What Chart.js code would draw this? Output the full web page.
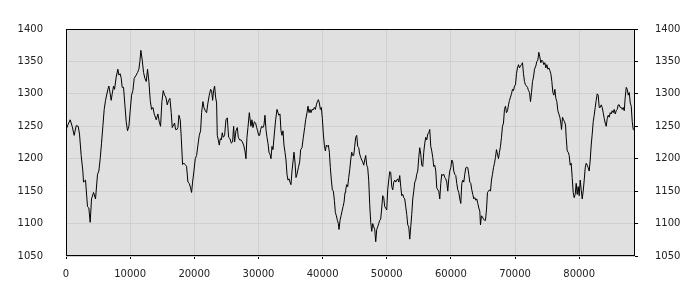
<!DOCTYPE html>
<html>
<head>
<meta charset="utf-8">
<script src="https://cdn.jsdelivr.net/npm/chart.js"></script>
<style>
  html, body { margin: 0; padding: 0; background: #fff; }
  #wrap { width: 700px; height: 300px; }
</style>
</head>
<body>
<div id="wrap"><canvas id="seriesChart" width="700" height="300"></canvas></div>
<script>
// values
const xValues = [
  0, 286, 650, 962, 1274, 1586, 1898, 2106, 2366, 2626, 2730, 3042, 3354, 3562, 3770, 3978,
  4290, 4602, 4914, 5122, 5330, 5538, 5746, 5954, 6162, 6526, 6682, 6890, 7046, 7202, 7410, 7566,
  7826, 8086, 8242, 8450, 8606, 8762, 8970, 9178, 9386, 9594, 9802, 10010, 10218, 10426, 10634, 10946,
  11154, 11362, 11518, 11674, 11882, 12090, 12298, 12506, 12714, 12922, 13130, 13338, 13546, 13754,
  14066, 14326, 14534, 14742, 14950, 15158, 15366, 15574, 15782, 15990, 16198, 16406, 16562, 16770,
  16926, 17082, 17290, 17446, 17602, 17810, 17966, 18174, 18382, 18590, 18798, 19006, 19214, 19422,
  19578, 19734, 19942, 20150, 20358, 20566, 20774, 20982, 21138, 21346, 21502, 21710, 21918, 22126,
  22334, 22542, 22698, 22854, 23010, 23166, 23322, 23478, 23582, 23738, 23894, 24050, 24206, 24362,
  24518, 24726, 24934, 25142, 25350, 25558, 25766, 25974, 26130, 26286, 26494, 26702, 26858, 27066,
  27274, 27482, 27690, 27898, 28054, 28210, 28366, 28574,
  28834, 28990, 29146, 29354, 29562, 29718, 29874, 30030, 30186, 30342, 30498, 30706, 30862, 31018,
  31174, 31330, 31486, 31642, 31798, 31954, 32110, 32266, 32474, 32682, 32890, 33046, 33202, 33358,
  33514, 33670, 33826, 33982, 34138, 34294, 34450, 34606, 34762, 34918, 35074, 35230, 35386, 35542,
  35698, 35854, 36010, 36218, 36426, 36582, 36790, 36998, 37206, 37362, 37570, 37726, 37882, 38038,
  38194, 38350, 38506, 38714, 38870, 39026, 39182, 39338, 39494, 39650, 39806, 39962, 40118, 40274,
  40430, 40586, 40742, 40898, 41054, 41210, 41366, 41522, 41678, 41834, 41990, 42146, 42302, 42458,
  42562, 42718, 42874, 43030, 43186, 43342, 43498,
  43602, 43758, 43914, 44070, 44226, 44382, 44538, 44694, 44850, 45006, 45162, 45318, 45474, 45630,
  45786, 45942, 46098, 46254, 46410, 46566, 46722, 46878, 47034, 47190, 47346, 47502, 47658, 47814,
  47970, 48126, 48282, 48438, 48594, 48750, 48906, 49062, 49218, 49374, 49530, 49686, 49842, 49998,
  50154, 50310, 50466, 50622, 50778, 50934, 51090, 51246, 51402, 51558, 51714, 51870, 52026, 52182,
  52338, 52494, 52650, 52806, 52962, 53118, 53274, 53430, 53586, 53742, 53898, 54054, 54210, 54366,
  54522, 54678, 54834, 54990, 55146, 55302, 55458, 55614, 55770, 55926, 56082, 56238, 56394, 56550,
  56706, 56862, 57018, 57174, 57330, 57486, 57642, 57798, 57954, 58110, 58266,
  58422, 58578, 58734, 58890, 59046, 59202, 59358, 59514, 59670, 59826, 59982, 60138, 60294, 60450,
  60606, 60762, 60918, 61074, 61230, 61386, 61542, 61698, 61854, 62010, 62166, 62322, 62478, 62634,
  62790, 62946, 63102, 63258, 63414, 63570, 63726, 63882, 64038, 64194, 64350, 64506, 64610, 64766,
  64922, 65078, 65234, 65390, 65546, 65702, 65858, 66014, 66170, 66326, 66482, 66638, 66794, 66950,
  67106, 67262, 67418, 67574, 67730, 67886, 68042, 68198, 68354, 68510, 68666, 68822, 68978, 69134,
  69290, 69446, 69602, 69758, 69914, 70070, 70226, 70382, 70538, 70694, 70850, 71006, 71162, 71318,
  71474, 71630, 71786, 71942, 72098, 72254, 72410, 72566, 72722, 72878, 73034,
  73242, 73398, 73554, 73710, 73866, 74022, 74178, 74334, 74490, 74646, 74802, 74958, 75114, 75270,
  75426, 75582, 75738, 75894, 76050, 76206, 76362, 76518, 76674, 76830, 76986, 77142, 77246, 77402,
  77558, 77714, 77870, 77974, 78130, 78286, 78442, 78598, 78754, 78910, 79066, 79222, 79378, 79534,
  79690, 79846, 80002, 80158, 80314, 80470, 80626, 80782, 80938, 81094, 81250, 81406, 81562, 81718,
  81874, 82030, 82186, 82342, 82498, 82654, 82810, 82966, 83122, 83278, 83434, 83590, 83746, 83902,
  84058, 84214, 84370, 84526, 84682, 84838, 84994, 85150, 85306, 85462, 85618, 85774, 85930, 86086,
  86242, 86398, 86554, 86710, 86866, 87022, 87178, 87334, 87490, 87646, 87802, 87958, 88114, 88270,
  88426, 88700
];
const yValues = [
  1244, 1252, 1260, 1250, 1236, 1251, 1250, 1238, 1205, 1181, 1164, 1167, 1126, 1124, 1102, 1138,
  1148, 1138, 1176, 1181, 1200, 1224, 1250, 1276, 1290, 1307, 1312, 1300, 1290, 1300, 1312, 1307,
  1326, 1338, 1329, 1331, 1324, 1310, 1310, 1283, 1257, 1243, 1250, 1274, 1298, 1305, 1324, 1329,
  1333, 1338, 1350, 1367, 1352, 1333, 1324, 1319, 1338, 1319, 1290, 1276, 1279, 1269,
  1260, 1269, 1257, 1250, 1288, 1305, 1298, 1295, 1283, 1290, 1293, 1271, 1248, 1252,
  1255, 1245, 1245, 1248, 1267, 1260, 1233, 1191, 1193, 1191, 1188, 1164, 1162, 1155,
  1148, 1164, 1181, 1200, 1205, 1221, 1236, 1243, 1271, 1288, 1279, 1274, 1271, 1286,
  1298, 1307, 1305, 1290, 1305, 1312, 1295, 1286, 1236, 1229, 1221, 1231, 1229, 1240,
  1233, 1236, 1260, 1263, 1233, 1231, 1224, 1226, 1250, 1226, 1243, 1248, 1233, 1229,
  1229, 1226, 1221, 1212, 1200, 1233, 1248, 1271,
  1250, 1260, 1248, 1257, 1255, 1248, 1243, 1236, 1236, 1245, 1250, 1248, 1252, 1267,
  1245, 1233, 1224, 1210, 1207, 1200, 1219, 1214, 1238, 1260, 1276, 1271, 1267, 1269,
  1243, 1236, 1243, 1221, 1210, 1198, 1176, 1167, 1169, 1164, 1160, 1181, 1195, 1210,
  1195, 1171, 1176, 1186, 1195, 1214, 1217, 1233, 1248, 1260, 1271, 1281, 1271, 1276,
  1271, 1276, 1275, 1279, 1276, 1283, 1288, 1291, 1286, 1276, 1279, 1262, 1238, 1221,
  1212, 1221, 1219, 1221, 1210, 1186, 1167, 1152, 1150, 1136, 1117, 1112, 1105, 1100,
  1091, 1105, 1112, 1119, 1126, 1133, 1148,
  1152, 1160, 1157, 1171, 1183, 1198, 1210, 1205, 1205, 1219, 1233, 1236, 1219, 1217,
  1207, 1202, 1198, 1195, 1190, 1198, 1205, 1190, 1186, 1167, 1129, 1102, 1088, 1100,
  1095, 1091, 1072, 1091, 1095, 1100, 1105, 1107, 1124, 1143, 1140, 1126, 1124, 1121,
  1152, 1167, 1180, 1179, 1157, 1152, 1164, 1167, 1164, 1167, 1169, 1164, 1174, 1157,
  1143, 1145, 1140, 1138, 1126, 1114, 1098, 1095, 1076, 1095, 1114, 1138, 1150, 1164,
  1167, 1176, 1181, 1202, 1217, 1207, 1190, 1188, 1210, 1224, 1233, 1229, 1238, 1240,
  1245, 1219, 1212, 1202, 1188, 1190, 1181, 1155, 1152, 1150, 1138,
  1162, 1176, 1174, 1176, 1171, 1169, 1164, 1150, 1169, 1181, 1186, 1198, 1195, 1181,
  1176, 1174, 1162, 1152, 1148, 1138, 1131, 1162, 1167, 1164, 1176, 1186, 1187, 1186,
  1176, 1164, 1162, 1152, 1145, 1138, 1140, 1136, 1138, 1131, 1124, 1119, 1098, 1112,
  1110, 1107, 1105, 1105, 1121, 1148, 1150, 1152, 1150, 1167, 1176, 1186, 1193, 1202,
  1214, 1207, 1200, 1210, 1219, 1233, 1250, 1255, 1276, 1281, 1271, 1274, 1283, 1290,
  1295, 1300, 1307, 1305, 1312, 1314, 1331, 1340, 1345, 1340, 1343, 1345, 1348, 1331,
  1319, 1314, 1312, 1310, 1305, 1302, 1288, 1302, 1319, 1326, 1338,
  1343, 1350, 1352, 1364, 1357, 1348, 1352, 1350, 1345, 1348, 1340, 1345, 1338, 1340,
  1336, 1331, 1319, 1302, 1298, 1307, 1293, 1288, 1274, 1269, 1264, 1255, 1245, 1264,
  1260, 1257, 1252, 1233, 1212, 1210, 1205, 1190, 1193, 1171, 1148, 1140, 1145, 1162,
  1145, 1157, 1143, 1167, 1152, 1138, 1150, 1167, 1186, 1193, 1190, 1186, 1181, 1198,
  1221, 1238, 1257, 1267, 1279, 1290, 1300, 1298, 1279, 1279, 1283, 1279, 1271, 1262,
  1255, 1250, 1262, 1267, 1264, 1271, 1269, 1274, 1271, 1276, 1269, 1274, 1276, 1283,
  1283, 1279, 1279, 1276, 1279, 1274, 1295, 1310, 1307, 1298, 1302, 1286, 1281, 1257,
  1245, 1243
];
const xTicks = [0, 10000, 20000, 30000, 40000, 50000, 60000, 70000, 80000];
const yTicks = [1050, 1100, 1150, 1200, 1250, 1300, 1350, 1400];

const points = xValues.map((x, i) => ({ x: x, y: yValues[i] }));
const tickFont = { family: 'DejaVu Sans', size: 10 };
const labelColor = '#222';
const gridColor = '#d0d0d0';
const plainNumber = (v) => String(v);

// grey plot background and black frame around it
const plotFrame = {
  id: 'plotFrame',
  beforeDraw(chart) {
    const a = chart.chartArea;
    const ctx = chart.ctx;
    ctx.save();
    ctx.fillStyle = '#e0e0e0';
    ctx.fillRect(a.left, a.top, a.right - a.left, a.bottom - a.top);
    ctx.restore();
  },
  afterDraw(chart) {
    const a = chart.chartArea;
    const ctx = chart.ctx;
    ctx.save();
    ctx.strokeStyle = '#000';
    ctx.lineWidth = 1;
    ctx.strokeRect(a.left + 0.5, a.top + 0.5, a.right - a.left - 1, a.bottom - a.top - 1);
    ctx.restore();
  }
};

new Chart(document.getElementById('seriesChart'), {
  type: 'line',
  data: {
    datasets: [{
      data: points,
      borderColor: '#000',
      borderWidth: 1,
      pointRadius: 0,
      tension: 0,
      fill: false
    }]
  },
  options: {
    responsive: false,
    animation: false,
    devicePixelRatio: 1,
    layout: { padding: { top: 10, left: 0, right: 0, bottom: 0 } },
    plugins: {
      legend: { display: false },
      tooltip: { enabled: false }
    },
    scales: {
      x: {
        type: 'linear',
        min: 0,
        max: 88700,
        afterBuildTicks: (s) => { s.ticks = xTicks.map(v => ({ value: v })); },
        afterFit: (s) => { s.height = 44; },
        border: { display: false },
        grid: { color: gridColor, tickColor: '#000', tickLength: 3 },
        ticks: { font: tickFont, color: labelColor, padding: 9, maxRotation: 0, autoSkip: false, callback: plainNumber }
      },
      y: {
        position: 'left',
        min: 1050,
        max: 1400,
        afterBuildTicks: (s) => { s.ticks = yTicks.map(v => ({ value: v })); },
        afterFit: (s) => { s.width = 66; },
        border: { display: false },
        grid: { color: gridColor, drawTicks: false },
        ticks: { font: tickFont, color: labelColor, padding: 23, callback: plainNumber }
      },
      y2: {
        position: 'right',
        min: 1050,
        max: 1400,
        afterBuildTicks: (s) => { s.ticks = yTicks.map(v => ({ value: v })); },
        afterFit: (s) => { s.width = 65; },
        border: { display: false },
        grid: { drawOnChartArea: false, tickColor: '#000', tickLength: 3 },
        ticks: { font: tickFont, color: labelColor, padding: 17, callback: plainNumber }
      }
    }
  },
  plugins: [plotFrame]
});
</script>
</body>
</html>
